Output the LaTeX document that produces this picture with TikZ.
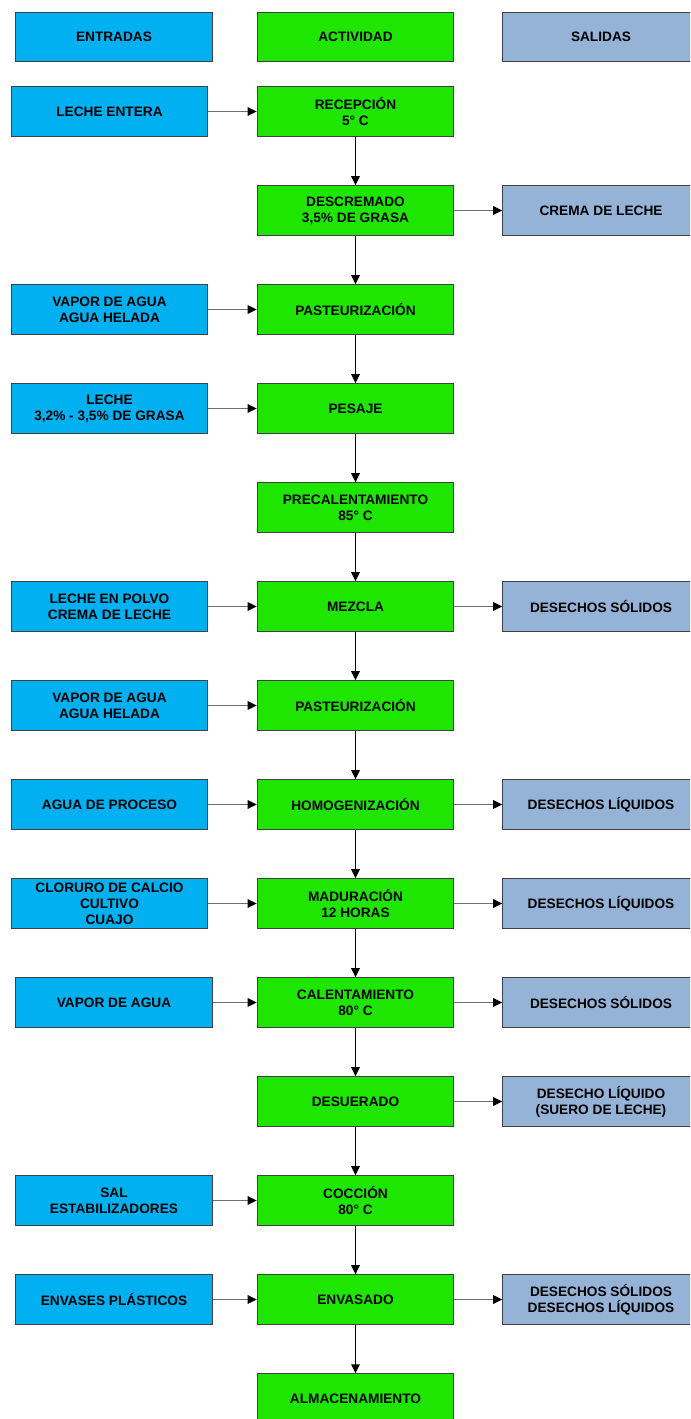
\documentclass[tikz,border=0pt]{standalone}
\usepackage{fontspec}
\setmainfont{Liberation Sans}
\usetikzlibrary{arrows.meta}
\definecolor{inblue}{RGB}{0,176,240}
\definecolor{actgreen}{RGB}{30,230,0}
\definecolor{outgray}{RGB}{149,179,215}
\definecolor{edgegray}{RGB}{64,64,64}
\tikzset{
  box/.style={draw=edgegray, line width=0.8pt, minimum width=147.4pt, minimum height=37.1pt,
    inner sep=0pt, align=center, font=\fontsize{10.25}{12}\selectfont\bfseries},
  inbox/.style={box, fill=inblue},
  actbox/.style={box, fill=actgreen},
  outbox/.style={box, fill=outgray},
  harrow/.style={draw={rgb,255:red,110;green,110;blue,110}, line width=0.8pt,
    -{Triangle[length=6.75pt,width=6.5pt,color=black]}},
  varrow/.style={draw=black, line width=0.8pt,
    -{Triangle[length=6.75pt,width=6.5pt]}}
}
\begin{document}
\begin{tikzpicture}[x=0.75pt,y=-0.75pt]
\useasboundingbox (0,0) rectangle (690,1419);
\clip (0,0) rectangle (690,1419);
% headers
\node[inbox] (hin) at (114,37) {ENTRADAS};
\node[actbox] (hact) at (355.5,37) {ACTIVIDAD};
\node[outbox] (hout) at (601,37) {SALIDAS};
% activities
\node[actbox] (a0) at (355.5,111.5) {RECEPCIÓN\\5° C};
\node[actbox] (a1) at (355.5,210.5) {DESCREMADO\\3,5\% DE GRASA};
\node[actbox] (a2) at (355.5,309.5) {PASTEURIZACIÓN};
\node[actbox] (a3) at (355.5,408.5) {PESAJE};
\node[actbox] (a4) at (355.5,507.5) {PRECALENTAMIENTO\\85° C};
\node[actbox] (a5) at (355.5,606.5) {MEZCLA};
\node[actbox] (a6) at (355.5,705.5) {PASTEURIZACIÓN};
\node[actbox] (a7) at (355.5,804.5) {HOMOGENIZACIÓN};
\node[actbox] (a8) at (355.5,903.5) {MADURACIÓN\\12 HORAS};
\node[actbox] (a9) at (355.5,1002.5) {CALENTAMIENTO\\80° C};
\node[actbox] (a10) at (355.5,1101.5) {DESUERADO};
\node[actbox] (a11) at (355.5,1200.5) {COCCIÓN\\80° C};
\node[actbox] (a12) at (355.5,1299.5) {ENVASADO};
\node[actbox] (a13) at (355.5,1398.5) {ALMACENAMIENTO};
% inputs
\node[inbox] (i0) at (109.5,111.5) {LECHE ENTERA};
\node[inbox] (i2) at (109.5,309.5) {VAPOR DE AGUA\\AGUA HELADA};
\node[inbox] (i3) at (109.5,408.5) {LECHE\\3,2\% - 3,5\% DE GRASA};
\node[inbox] (i5) at (109.5,606.5) {LECHE EN POLVO\\CREMA DE LECHE};
\node[inbox] (i6) at (109.5,705.5) {VAPOR DE AGUA\\AGUA HELADA};
\node[inbox] (i7) at (109.5,804.5) {AGUA DE PROCESO};
\node[inbox] (i8) at (109.5,903.5) {CLORURO DE CALCIO\\CULTIVO\\CUAJO};
\node[inbox] (i9) at (114,1002.5) {VAPOR DE AGUA};
\node[inbox] (i11) at (114,1200.5) {SAL\\ESTABILIZADORES};
\node[inbox] (i12) at (114,1299.5) {ENVASES PLÁSTICOS};
% outputs
\node[outbox] (o1) at (601,210.5) {CREMA DE LECHE};
\node[outbox] (o5) at (601,606.5) {DESECHOS SÓLIDOS};
\node[outbox] (o7) at (601,804.5) {DESECHOS LÍQUIDOS};
\node[outbox] (o8) at (601,903.5) {DESECHOS LÍQUIDOS};
\node[outbox] (o9) at (601,1002.5) {DESECHOS SÓLIDOS};
\node[outbox] (o10) at (601,1101.5) {DESECHO LÍQUIDO\\(SUERO DE LECHE)};
\node[outbox] (o12) at (601,1299.5) {DESECHOS SÓLIDOS\\DESECHOS LÍQUIDOS};
% vertical flow
\foreach \a/\b in {a0/a1,a1/a2,a2/a3,a3/a4,a4/a5,a5/a6,a6/a7,a7/a8,a8/a9,a9/a10,a10/a11,a11/a12,a12/a13}
  \draw[varrow] (\a.south) -- (\b.north);
% inputs
\foreach \i/\a in {i0/a0,i2/a2,i3/a3,i5/a5,i6/a6,i7/a7,i8/a8,i9/a9,i11/a11,i12/a12}
  \draw[harrow] (\i.east) -- (\a.west);
% outputs
\foreach \a/\o in {a1/o1,a5/o5,a7/o7,a8/o8,a9/o9,a10/o10,a12/o12}
  \draw[harrow] (\a.east) -- (\o.west);
\end{tikzpicture}
\end{document}
